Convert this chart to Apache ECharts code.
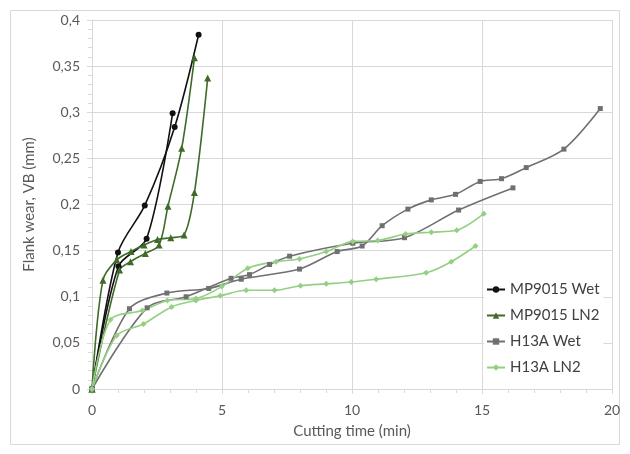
<!DOCTYPE html>
<html>
<head>
<meta charset="utf-8">
<script src="https://cdn.jsdelivr.net/npm/echarts@6/dist/echarts.min.js"></script>
<style>
html,body{margin:0;padding:0;background:#fff;}
#c{width:630px;height:454px;}
</style>
</head>
<body>
<div id="c"></div>
<script>
// ---- data (time in min, flank wear VB in mm) ----
const seriesNames = ['MP9015 Wet', 'MP9015 LN2', 'H13A Wet', 'H13A LN2'];
const xTicks = [0, 5, 10, 15, 20];
const yTicks = [0, 0.05, 0.1, 0.15, 0.2, 0.25, 0.3, 0.35, 0.4];

const mpWet1 = [[0,0],[1.0,0.148],[2.03,0.199],[3.18,0.284],[4.1,0.384]];
const mpWet2 = [[0,0],[1.02,0.133],[2.1,0.163],[3.1,0.299]];

const mpLN2_1 = [[0,0],[0.42,0.118],[0.95,0.140],[1.5,0.149],[2.0,0.156],[2.52,0.162],[3.03,0.164],[3.54,0.167],[3.94,0.213],[4.45,0.337]];
const mpLN2_2 = [[0,0],[1.06,0.129],[1.48,0.138],[2.05,0.147],[2.58,0.156],[2.92,0.198],[3.45,0.261],[3.94,0.359]];

const h13Wet1 = [[0,0],[1.44,0.087],[2.88,0.104],[4.49,0.109],[5.74,0.119],[7.98,0.130],[9.43,0.149],[10.39,0.155],[11.16,0.177],[12.15,0.195],[13.05,0.205],[13.98,0.211],[14.93,0.225],[15.75,0.228],[16.7,0.240],[18.15,0.260],[19.55,0.304]];
const h13Wet2 = [[0,0],[2.12,0.088],[3.62,0.100],[5.35,0.120],[6.06,0.124],[6.83,0.135],[7.6,0.144],[10.03,0.158],[12.02,0.164],[14.1,0.194],[16.19,0.218]];

const h13LN2_1 = [[0,0],[0.71,0.075],[1.94,0.085],[2.9,0.096],[4.0,0.098],[4.99,0.111],[5.99,0.131],[7.08,0.138],[7.98,0.141],[9.01,0.149],[10.03,0.160],[10.99,0.161],[12.06,0.168],[13.05,0.170],[14.03,0.172],[15.07,0.190]];
const h13LN2_2 = [[0,0],[0.95,0.058],[1.98,0.0705],[3.06,0.089],[4.0,0.096],[4.93,0.101],[5.93,0.107],[7.02,0.107],[8.02,0.112],[9.01,0.114],[9.97,0.116],[10.93,0.119],[12.85,0.126],[13.82,0.138],[14.75,0.155]];

// ---- styling ----
const FONT = 'Lato';
const styles = {
  'MP9015 Wet': {color:'#111111', symbol:'circle', size:6},
  'MP9015 LN2': {color:'#3f6b28', symbol:'triangle', size:7},
  'H13A Wet':  {color:'#707070', symbol:'rect', size:5},
  'H13A LN2':  {color:'#95cf84', symbol:'diamond', size:6}
};
function mk(name, data){
  const s = styles[name];
  return {
    name, type:'line', data, smooth:0.3,
    symbol:s.symbol, symbolSize:s.size, showSymbol:true,
    lineStyle:{color:s.color, width:1.6},
    itemStyle:{color:s.color},
    emphasis:{disabled:true}
  };
}
const fmt = v => String(+(+v).toFixed(2)).replace('.', ',');

const chart = echarts.init(document.getElementById('c'), null, {renderer:'canvas'});
chart.setOption({
  animation:false,
  backgroundColor:'#fff',
  textStyle:{fontFamily:FONT},
  graphic:[{type:'rect', shape:{x:10.5,y:10.5,width:609,height:434}, style:{fill:null, stroke:'#d9d9d9', lineWidth:1}, silent:true, z:-10}],
  grid:{left:92, right:18, top:20, bottom:65},
  legend:{
    data:seriesNames, orient:'vertical', left:484, top:280,
    itemWidth:18, itemHeight:8, itemGap:11,
    backgroundColor:'#fff', padding:[2,4,2,2],
    textStyle:{fontFamily:FONT, fontSize:15, color:'#404040'}
  },
  xAxis:{
    type:'value', min:0, max:20, interval:5,
    name:'Cutting time (min)', nameLocation:'middle', nameGap:35,
    nameTextStyle:{fontFamily:FONT, fontSize:15, color:'#595959'},
    axisLine:{lineStyle:{color:'#d9d9d9'}},
    axisTick:{show:true, length:5, lineStyle:{color:'#d9d9d9'}},
    minorTick:{show:true, splitNumber:5, length:4, lineStyle:{color:'#d9d9d9'}},
    axisLabel:{fontFamily:FONT, fontSize:14, color:'#595959', margin:14, formatter:fmt},
    splitLine:{show:true, lineStyle:{color:'#d9d9d9'}}
  },
  yAxis:{
    type:'value', min:0, max:0.4, interval:0.05,
    name:'Flank wear, VB (mm)', nameLocation:'middle', nameGap:55,
    nameTextStyle:{fontFamily:FONT, fontSize:15, color:'#595959'},
    axisLine:{show:true, lineStyle:{color:'#d9d9d9'}},
    axisTick:{show:true, length:5, lineStyle:{color:'#d9d9d9'}},
    minorTick:{show:true, splitNumber:5, length:4, lineStyle:{color:'#d9d9d9'}},
    axisLabel:{fontFamily:FONT, fontSize:14, color:'#595959', margin:12, formatter:fmt},
    splitLine:{show:true, lineStyle:{color:'#d9d9d9'}}
  },
  series:[
    mk('MP9015 Wet', mpWet1), mk('MP9015 Wet', mpWet2),
    mk('MP9015 LN2', mpLN2_1), mk('MP9015 LN2', mpLN2_2),
    mk('H13A Wet', h13Wet1), mk('H13A Wet', h13Wet2),
    mk('H13A LN2', h13LN2_1), mk('H13A LN2', h13LN2_2)
  ]
});
</script>
</body>
</html>
